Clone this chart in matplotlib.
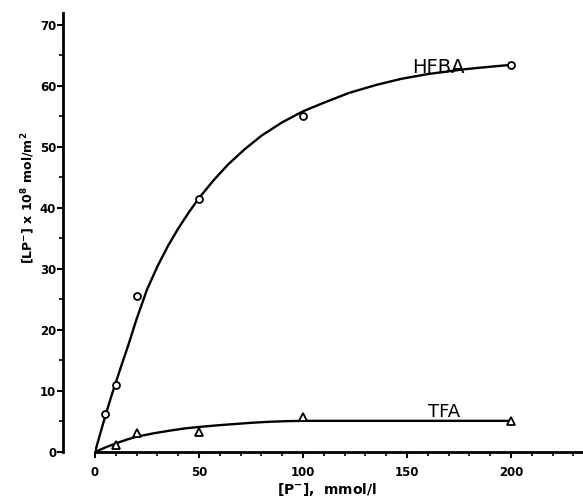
import matplotlib
matplotlib.use('Agg')
import matplotlib.pyplot as plt
from matplotlib.ticker import MultipleLocator

# measured points
p_conc = [5, 10, 20, 50, 100, 200]
hfba_pts = [6.2, 11.0, 25.6, 41.5, 55.0, 63.4]
tfa_conc = [10, 20, 50, 100, 200]
tfa_pts = [1.1, 3.1, 3.2, 5.8, 5.1]

# hand drawn fit curves
hfba_curve_x = [0, 2, 4, 6, 8, 10, 13, 16, 20, 25, 30, 35, 40, 45, 50, 57, 64, 72,
                80, 90, 100, 110, 122, 135, 147, 160, 178, 190, 200]
hfba_curve_y = [0, 2.4, 4.8, 7.1, 9.3, 11.4, 14.5, 17.5, 21.8, 26.6, 30.4, 33.7, 36.6,
                39.2, 41.6, 44.5, 47.1, 49.6, 51.8, 54.0, 55.8, 57.2, 58.8, 60.1, 61.1,
                61.9, 62.7, 63.1, 63.4]
tfa_curve_x = [0, 5, 10, 15, 20, 28, 36, 43, 50, 60, 68, 76, 84, 92, 100, 120, 150, 200]
tfa_curve_y = [0, 0.75, 1.4, 2.0, 2.5, 3.05, 3.5, 3.85, 4.1, 4.4, 4.6, 4.8, 4.95, 5.05,
               5.1, 5.1, 5.1, 5.1]

x_ticks = [0, 50, 100, 150, 200]
y_ticks = [0, 10, 20, 30, 40, 50, 60, 70]


def main():
    plt.rcParams['font.family'] = 'DejaVu Sans'
    plt.rcParams['font.weight'] = 'bold'
    plt.rcParams['axes.linewidth'] = 2

    fig = plt.figure(figsize=(5.83, 4.98), dpi=100)
    ax = fig.add_axes([0.163, 0.0924, 0.837, 0.8815])

    ax.plot(hfba_curve_x, hfba_curve_y, color='black', lw=1.7)
    ax.plot(tfa_curve_x, tfa_curve_y, color='black', lw=1.7)
    ax.plot(p_conc, hfba_pts, 'o', ms=5, mfc='white', mec='black', mew=1.3)
    ax.plot(tfa_conc, tfa_pts, '^', ms=5.5, mfc='white', mec='black', mew=1.3)

    ax.text(165, 62.0, 'HFBA', fontsize=14, fontweight='normal', ha='center', va='baseline')
    ax.text(168, 5.8, 'TFA', fontsize=13, fontweight='normal', ha='center', va='baseline')

    ax.set_xlim(0, 234.6)
    ax.set_ylim(0, 71.9)
    ax.set_xticks(x_ticks)
    ax.set_yticks(y_ticks)
    ax.xaxis.set_minor_locator(MultipleLocator(10))
    ax.yaxis.set_minor_locator(MultipleLocator(5))
    ax.tick_params(which='major', direction='out', length=4, width=1.5, labelsize=8.5)
    ax.tick_params(axis='x', which='major', pad=6)
    ax.tick_params(axis='y', which='major', pad=1)
    ax.tick_params(which='minor', direction='out', length=3, width=1.2)
    ax.spines['top'].set_visible(False)
    ax.spines['right'].set_visible(False)
    # y axis sits apart from the x origin in the original
    ax.spines['left'].set_position(('outward', 23))

    ax.set_xlabel('[P$^{-}$],  mmol/l', fontsize=10, fontweight='bold')
    ax.set_ylabel('[LP$^{-}$] x 10$^{8}$ mol/m$^{2}$', fontsize=9, fontweight='bold')
    ax.xaxis.set_label_coords(0.475, -0.065)
    ax.yaxis.set_label_coords(-0.118, 0.58)

    fig.savefig('out.png', dpi=100)


if __name__ == '__main__':
    main()
